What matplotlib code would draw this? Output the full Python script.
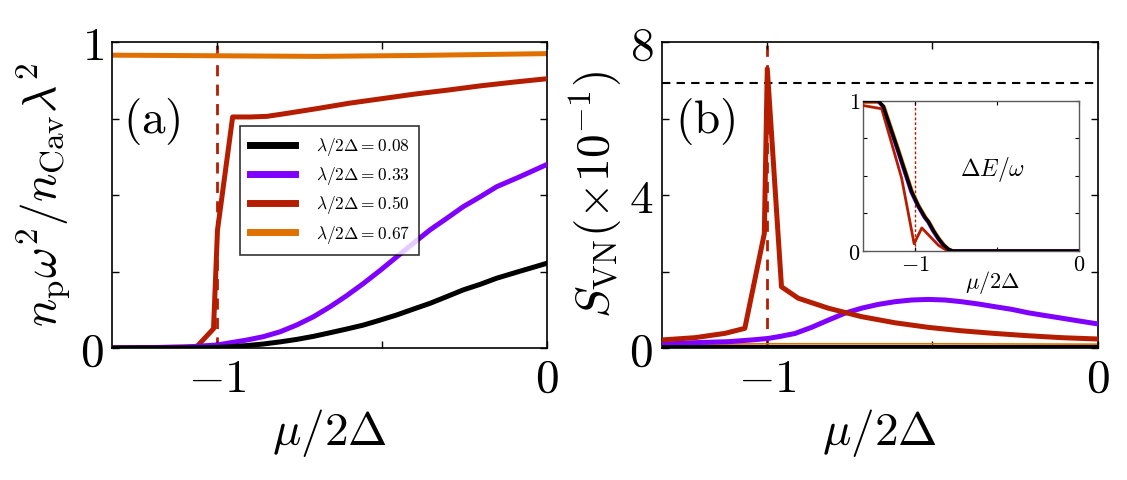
import matplotlib
matplotlib.use("Agg")
import matplotlib.pyplot as plt

plt.rcParams['mathtext.fontset'] = 'cm'
plt.rcParams['font.family'] = ['DejaVu Serif']

# ---------------- data ----------------
labels = [r'$\lambda/2\Delta=0.08$', r'$\lambda/2\Delta=0.33$',
          r'$\lambda/2\Delta=0.50$', r'$\lambda/2\Delta=0.67$']
colors = ['#000000', '#8000ff', '#b51d00', '#e07000']

# panel (a): n_p w^2 / n_Cav lambda^2
a_black_x = [-1.32, -1.1, -1.0, -0.962, -0.911, -0.861, -0.81, -0.76, -0.709, -0.658, -0.608,
             -0.557, -0.507, -0.456, -0.406, -0.355, -0.304, -0.254, -0.203, -0.153, -0.082, 0.0]
a_black_y = [0.0, 0.0, 0.002, 0.004, 0.008, 0.013, 0.020, 0.028, 0.038, 0.050, 0.062,
             0.075, 0.091, 0.108, 0.127, 0.146, 0.168, 0.190, 0.208, 0.228, 0.251, 0.277]
a_purple_x = [-1.32, -1.1, -1.0, -0.962, -0.911, -0.861, -0.81, -0.76, -0.709, -0.658, -0.608,
              -0.557, -0.507, -0.456, -0.406, -0.355, -0.304, -0.254, -0.203, -0.153, -0.082, 0.0]
a_purple_y = [0.0, 0.003, 0.01, 0.017, 0.026, 0.037, 0.053, 0.075, 0.102, 0.135, 0.171,
              0.211, 0.253, 0.298, 0.342, 0.386, 0.424, 0.462, 0.494, 0.527, 0.560, 0.600]
a_red_x = [-1.32, -1.2, -1.063, -1.012, -1.0, -0.954, -0.9, -0.85, -0.8, -0.7, -0.6, -0.5, -0.4, -0.3, -0.2, -0.1, 0.0]
a_red_y = [0.0, 0.001, 0.004, 0.063, 0.385, 0.755, 0.755, 0.757, 0.765, 0.782, 0.80, 0.815, 0.83, 0.843, 0.857, 0.869, 0.88]
a_orange_x = [-1.32, -1.0, -0.7, -0.4, 0.0]
a_orange_y = [0.957, 0.955, 0.953, 0.956, 0.962]

# panel (b): S_VN (x10^-1)
b_black_x = [-1.32, 0.0]
b_black_y = [0.03, 0.03]
b_orange_x = [-1.32, -1.0, -0.5, 0.0]
b_orange_y = [0.09, 0.11, 0.11, 0.10]
b_purple_x = [-1.32, -1.219, -1.118, -1.048, -0.997, -0.957, -0.916, -0.866, -0.815, -0.765, -0.715,
              -0.664, -0.614, -0.563, -0.513, -0.462, -0.412, -0.361, -0.311, -0.26, -0.21,
              -0.16, -0.109, -0.059, 0.0]
b_purple_y = [0.10, 0.14, 0.165, 0.21, 0.25, 0.31, 0.38, 0.54, 0.73, 0.91, 1.04,
              1.14, 1.21, 1.255, 1.27, 1.255, 1.21, 1.15, 1.08, 1.01, 0.92,
              0.85, 0.78, 0.71, 0.63]
b_red_x = [-1.32, -1.219, -1.128, -1.068, -1.009, -1.0, -0.957, -0.906, -0.815, -0.715, -0.614, -0.513, -0.412, -0.311, -0.21, -0.109, 0.0]
b_red_y = [0.21, 0.27, 0.383, 0.514, 2.99, 7.3, 1.60, 1.30, 1.04, 0.82, 0.66, 0.54, 0.45, 0.38, 0.32, 0.27, 0.235]
b_hline = 6.93

# inset: Delta E / omega
i_black_x = [-1.32, -1.224, -1.194, -1.108, -1.021, -0.98, -0.94, -0.918, -0.888, -0.857, -0.826, -0.796, -0.77, 0.0]
i_black_y = [1.0, 1.0, 0.962, 0.684, 0.394, 0.30, 0.225, 0.194, 0.135, 0.083, 0.04, 0.011, 0.0, 0.0]
i_purple_x = [-1.32, -1.228, -1.198, -1.112, -1.025, -0.984, -0.944, -0.922, -0.892, -0.861, -0.83, -0.80, -0.774, 0.0]
i_purple_y = [1.0, 1.0, 0.962, 0.684, 0.394, 0.30, 0.225, 0.194, 0.135, 0.083, 0.04, 0.011, 0.0, 0.0]
i_orange_x = [-1.32, -1.22, -1.19, -1.104, -1.017, -0.976, -0.936, -0.914, -0.884, -0.853, -0.822, -0.792, -0.766, 0.0]
i_orange_y = [0.99, 0.99, 0.962, 0.684, 0.394, 0.30, 0.225, 0.194, 0.135, 0.083, 0.04, 0.011, 0.0, 0.0]
i_red_x = [-1.32, -1.204, -1.082, -1.006, -0.959, -0.857, -0.80, 0.0]
i_red_y = [0.969, 0.947, 0.484, 0.049, 0.154, 0.038, 0.0, 0.0]

xlim = (-1.32, 0.0)
red_dash = '#b51d00'

# ---------------- figure ----------------
fig = plt.figure(figsize=(11.27, 4.8), dpi=100)
axa = fig.add_axes([0.0994, 0.275, 0.386, 0.6375])
axb = fig.add_axes([0.587, 0.275, 0.387, 0.6375])
axi = fig.add_axes([0.7655, 0.477, 0.1917, 0.313])

lw = 3.6
big = 34

def style(ax, fs, length, pad):
    ax.tick_params(direction='in', top=True, right=True, length=length,
                   width=1, labelsize=fs, pad=pad)
    for s in ax.spines.values():
        s.set_linewidth(1.2)

# panel (a)
axa.axvline(-1.0, color=red_dash, ls=(0, (4, 3)), lw=2, zorder=1)
axa.plot(a_black_x, a_black_y, color=colors[0], lw=lw, label=labels[0], zorder=5)
axa.plot(a_purple_x, a_purple_y, color=colors[1], lw=lw, label=labels[1], zorder=4)
axa.plot(a_red_x, a_red_y, color=colors[2], lw=lw, label=labels[2], zorder=3)
axa.plot(a_orange_x, a_orange_y, color=colors[3], lw=lw, label=labels[3], zorder=2)
axa.set_xlim(*xlim)
axa.set_ylim(0, 1)
axa.set_xticks([-1.0, -0.5, 0.0])
axa.set_xticklabels([r'$-1$', '', r'$0$'])
axa.set_yticks([0, 0.25, 0.5, 0.75, 1.0])
axa.set_yticklabels([r'$0$', '', '', '', r'$1$'])
style(axa, big, 5, 6)
axa.tick_params(axis='x', pad=6)
axa.set_xlabel(r'$\mu/2\Delta$', fontsize=big, labelpad=4)
axa.set_ylabel(r'$n_{\rm p}\omega^2/n_{\rm Cav}\lambda^2$', fontsize=big)
axa.yaxis.set_label_coords(-0.09, 0.5)
axa.text(0.025, 0.74, r'$\rm (a)$', transform=axa.transAxes, fontsize=big,
         va='center', ha='left')
leg = axa.legend(loc='upper left', bbox_to_anchor=(0.295, 0.725), fontsize=12.5,
                 frameon=True, fancybox=False, edgecolor='black', handlelength=2.6,
                 handletextpad=1.2, labelspacing=0.42, borderpad=0.55,
                 borderaxespad=0)
leg.get_frame().set_linewidth(1.2)
for h in leg.get_lines():
    h.set_linewidth(5)

# panel (b)
axb.axvline(-1.0, color=red_dash, ls=(0, (4, 3)), lw=2, zorder=1)
axb.axhline(b_hline, color='black', ls=(0, (4, 3)), lw=1.5, zorder=1)
axb.plot(b_orange_x, b_orange_y, color=colors[3], lw=1.2, zorder=2)
axb.plot(b_purple_x, b_purple_y, color=colors[1], lw=lw, zorder=3)
axb.plot(b_red_x, b_red_y, color=colors[2], lw=lw, zorder=4)
axb.plot(b_black_x, b_black_y, color=colors[0], lw=lw, zorder=5)
axb.set_xlim(*xlim)
axb.set_ylim(0, 8)
axb.set_xticks([-1.0, -0.5, 0.0])
axb.set_xticklabels([r'$-1$', '', r'$0$'])
axb.set_yticks([0, 2, 4, 6, 8])
axb.set_yticklabels([r'$0$', '', r'$4$', '', r'$8$'])
style(axb, big, 5, 6)
axb.tick_params(axis='x', pad=6)
axb.set_xlabel(r'$\mu/2\Delta$', fontsize=big, labelpad=4)
axb.set_ylabel(r'$S_{\rm VN}(\times 10^{-1})$', fontsize=big)
axb.yaxis.set_label_coords(-0.083, 0.5)
axb.text(0.03, 0.74, r'$\rm (b)$', transform=axb.transAxes, fontsize=big,
         va='center', ha='left')

# inset
axi.axvline(-1.0, color=red_dash, ls=(0, (2, 1.5)), lw=1, zorder=1)
axi.plot(i_orange_x, i_orange_y, color=colors[3], lw=2.5, zorder=2)
axi.plot(i_purple_x, i_purple_y, color=colors[1], lw=2.5, zorder=3)
axi.plot(i_red_x, i_red_y, color=colors[2], lw=2, zorder=4)
axi.plot(i_black_x, i_black_y, color=colors[0], lw=2.5, zorder=5)
axi.set_xlim(*xlim)
axi.set_ylim(0, 1)
axi.set_xticks([-1.0, -0.5, 0.0])
axi.set_xticklabels([r'$-1$', '', r'$0$'])
axi.set_yticks([0, 0.25, 0.5, 0.75, 1.0])
axi.set_yticklabels([r'$0$', '', '', '', r'$1$'])
axi.tick_params(direction='in', top=True, right=True, length=3, width=0.8,
                labelsize=16, pad=2)
for s in axi.spines.values():
    s.set_linewidth(1.0)
    s.set_color('0.35')
axi.set_xlabel(r'$\mu/2\Delta$', fontsize=16, labelpad=0)
axi.xaxis.set_label_coords(0.6, -0.12)
axi.xaxis.label.set_va('top')
axi.text(0.60, 0.54, r'$\Delta E/\omega$', transform=axi.transAxes, fontsize=17,
         ha='center', va='center')

fig.savefig('out.png', dpi=100)
